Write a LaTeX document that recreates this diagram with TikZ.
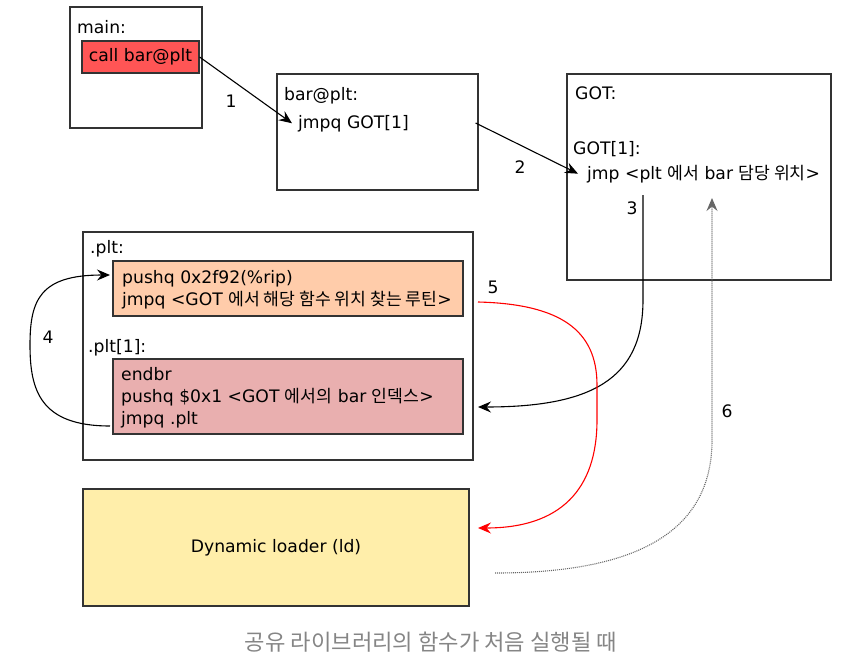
\documentclass[tikz,border=0pt]{standalone}
\usepackage{fontspec}
\setmainfont{DejaVu Sans}
\newfontfamily\hangulfont{Noto Sans CJK KR}
\usetikzlibrary{arrows.meta,positioning,calc}
\newcommand\ko[1]{{\hangulfont #1}}
\definecolor{callred}{HTML}{FF5555}
\definecolor{pltorange}{HTML}{FFCCAA}
\definecolor{pltpink}{HTML}{E9AFAF}
\definecolor{ldyellow}{HTML}{FFEEAA}
\definecolor{capgray}{HTML}{858585}
\begin{document}
\begin{tikzpicture}[x=1pt,y=-1pt,
  every node/.style={font=\fontsize{17.2}{20}\selectfont},
  box/.style={draw=black!80, line width=1.2pt, inner sep=0pt},
  code/.style={anchor=base west, inner sep=0pt},
  num/.style={inner sep=0pt},
  flow/.style={line width=1.1pt, -{Stealth[length=13pt,width=11pt,inset=4.5pt]}}]
\useasboundingbox (0,0) rectangle (855,656);
% main
\node[box, minimum width=132, minimum height=121] (mainbox) at (136,67.5) {};
\node[code] (mainlbl) at (77,33) {main:};
\node[box, fill=callred, minimum width=117, minimum height=32] (call) at (140.5,57) {call bar@plt};
% bar@plt
\node[box, minimum width=201, minimum height=116] (barbox) at (377.5,132) {};
\node[code] (barlbl) at (284,100) {bar@plt:};
\node[code] (jmpgot) at (298,128) {jmpq GOT[1]};
% GOT
\node[box, minimum width=264, minimum height=206] (gotbox) at (699,177) {};
\node[code] (gotlbl) at (575,99) {GOT:};
\node[code] (gotone) at (573,154) {GOT[1]:};
\node[code] (gotjmp) at (587,179) {jmp <plt \ko{에서} bar \ko{담당 위치}>};
% .plt
\node[box, minimum width=390, minimum height=228] (pltbox) at (278,346) {};
\node[code] (pltlbl) at (90,253) {.plt:};
\node[box, fill=pltorange, minimum width=350, minimum height=55] (pltzero) at (288,288.5) {};
\node[code] (pushrip) at (122,283) {pushq 0x2f92(\%rip)};
\node[code] (jmpres) at (122,305) {jmpq <GOT \ko{에서 해당 함수 위치 찾는 루틴}>};
\node[code] (pltonelbl) at (88,352) {.plt[1]:};
\node[box, fill=pltpink, minimum width=350, minimum height=75] (pltone) at (288,396.5) {};
\node[code] (endbr) at (121,380) {endbr};
\node[code] (pushidx) at (121,402) {pushq \$0x1 <GOT \ko{에서의} bar \ko{인덱스}>};
\node[code] (jmpplt) at (121,424) {jmpq .plt};
% loader
\node[box, fill=ldyellow, minimum width=386, minimum height=117] (loader) at (276,547.5) {Dynamic loader (ld)};
% arrows
\coordinate (gotout) at (643,195);
\coordinate (pltin) at (478,407);
\coordinate (redout) at (478,302);
\coordinate (ldin) at (478,528);
\coordinate (ldout) at (495,573);
\coordinate (gotin) at (712,198);
\coordinate (loopout) at (110,426);
\coordinate (loopin) at (110,275);
\draw[flow] (call.east) -- ([xshift=-6pt]jmpgot.west);
\draw[flow] ([xshift=-3pt,yshift=9pt]barbox.east) -- ([xshift=-9pt]gotjmp.west);
\draw[flow] (gotout) -- (643,300) .. controls (643,380) and (590,407) .. (pltin);
\draw[flow] (loopout) .. controls (40,426) and (30,390) .. (30,345) .. controls (30,300) and (40,275) .. (loopin);
\draw[flow, red] (redout) .. controls (560,304) and (597,330) .. (597,385) -- (597,420) .. controls (597,490) and (560,528) .. (ldin);
\draw[flow, black!60, dash pattern=on 1pt off 1pt] (ldout) .. controls (640,573) and (712,530) .. (712,440) -- (gotin);
\node[num] (n1) at (231,101) {1};
\node[num] (n2) at (520,167) {2};
\node[num] (n3) at (632,208) {3};
\node[num] (n4) at (48,337) {4};
\node[num] (n5) at (493,287) {5};
\node[num] (n6) at (727,411) {6};
% caption
\node[font=\fontsize{22.2}{26}\selectfont\hangulfont, text=capgray] (caption) at (431,642) {공유 라이브러리의 함수가 처음 실행될 때};
\end{tikzpicture}
\end{document}
